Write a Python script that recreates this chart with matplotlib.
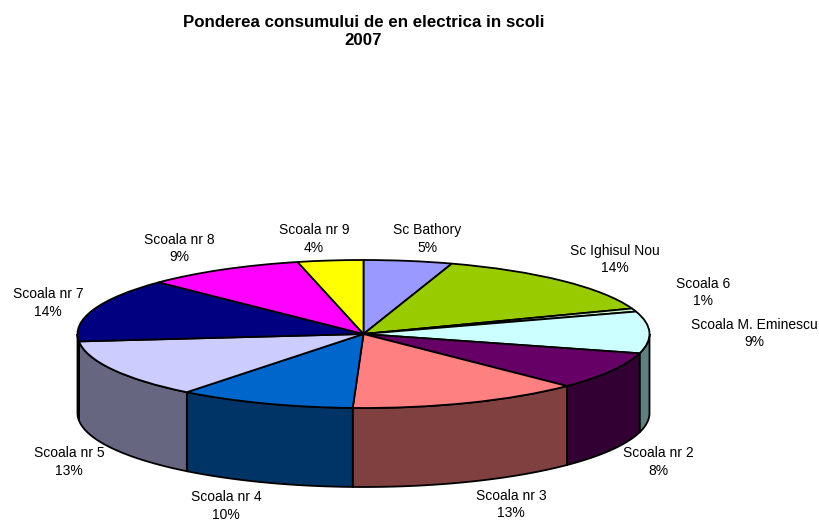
import numpy as np
import matplotlib
matplotlib.use("Agg")
import matplotlib.pyplot as plt

plt.rcParams['font.family'] = ['Liberation Sans', 'DejaVu Sans']

# slices clockwise from the top of the pie
names = ["Sc Bathory", "Sc Ighisul Nou", "Scoala 6", "Scoala M. Eminescu", "Scoala nr 2",
         "Scoala nr 3", "Scoala nr 4", "Scoala nr 5", "Scoala nr 7", "Scoala nr 8", "Scoala nr 9"]
shares = [5.0, 14.4, 0.7, 9.1, 8.2, 13.2, 10.0, 12.8, 13.9, 9.0, 3.7]
pct_labels = [5, 14, 1, 9, 8, 13, 10, 13, 14, 9, 4]
top_colors = ["#9999FF", "#99CC00", "#CCFFCC", "#CCFFFF", "#660066", "#FF8080",
              "#0066CC", "#CCCCFF", "#000080", "#FF00FF", "#FFFF00"]
side_colors = ["#666699", "#668800", "#668066", "#608080", "#330033", "#804040",
               "#003366", "#666680", "#000040", "#800080", "#808000"]
# label centres in pixels
label_x = [427, 615, 703, 754.5, 658, 511, 226, 69, 48, 179, 314]
label_y = [239, 259.5, 292.5, 333.5, 462, 504.5, 506, 462, 303, 248.5, 239]

W, H = 819, 524
cx, cy, rx, ry = 363.5, 334, 286, 74
depth = 79 / ry

fig = plt.figure(figsize=(W / 100, H / 100), dpi=100)
ax = fig.add_axes([0, 0, 1, 1])

ax.pie(shares, colors=top_colors, startangle=90, counterclock=False, radius=1,
       wedgeprops=dict(edgecolor="black", linewidth=1.3, zorder=3))
ax.set_aspect("auto")
ax.set_xlim(-cx / rx, (W - cx) / rx)
ax.set_ylim((cy - H) / ry, cy / ry)
ax.axis("off")

# side wall, only the part of each slice on the front half
edges = 90 - 360 * np.cumsum([0] + shares) / sum(shares)
for i in range(len(shares)):
    hi, lo = edges[i], edges[i + 1]
    for shift in (0, -360):
        a = max(lo + shift, -180)
        b = min(hi + shift, 0)
        if a >= b:
            continue
        t = np.radians(np.linspace(a, b, 60))
        xs = np.concatenate([np.cos(t), np.cos(t)[::-1]])
        ys = np.concatenate([np.sin(t), np.sin(t)[::-1] - depth])
        ax.fill(xs, ys, facecolor=side_colors[i], edgecolor="black", linewidth=1.3, zorder=2)

for i, name in enumerate(names):
    fig.text(label_x[i] / W, 1 - label_y[i] / H, f"{name}\n{pct_labels[i]}%", ha="center", va="center",
             fontsize=10, color="black", linespacing=1.3)

fig.text(363.5 / W, 1 - 31.5 / H, "Ponderea consumului de en electrica in scoli\n2007", ha="center", va="center",
         fontsize=12.2, fontweight="bold", linespacing=1.25)

fig.savefig("out.png", dpi=100)
